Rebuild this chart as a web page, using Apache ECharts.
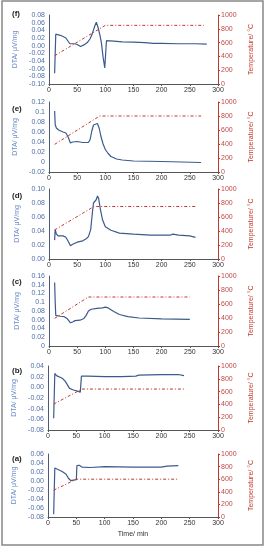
<!DOCTYPE html>
<html>
<head>
<meta charset="utf-8">
<script src="https://cdn.jsdelivr.net/npm/echarts@6/dist/echarts.min.js"></script>
<style>
html,body{margin:0;padding:0;background:#fff;}
#c{width:267px;height:550px;}
</style>
</head>
<body>
<div id="c"></div>
<script>
// ---- data (time in min, DTA in µV/mg, temperature in °C) ----
var panelNames = ['(f)', '(e)', '(d)', '(c)', '(b)', '(a)'];
var xTicks = [0, 50, 100, 150, 200, 250, 300];
var tempTicks = ['0', '200', '400', '600', '800', '1000'];

var dtaF = [[10,-0.072],[12,0.030],[15,0.029],[20,0.027],[25,0.024],[30,0.020],[33,0.015],[37,0.005],[40,0.003],[45,0.005],[50,0.003],[56,-0.002],[62,0.002],[68,0.008],[73,0.018],[77,0.032],[81,0.050],[84,0.061],[87,0.048],[90,0.030],[93,0.008],[96,-0.030],[99,-0.058],[102,0.013],[105,0.016],[115,0.012],[130,0.010],[150,0.009],[170,0.008],[185,0.006],[200,0.006],[230,0.005],[260,0.005],[280,0.004]];
var dtaE = [[10,0.102],[11,0.075],[13,0.068],[17,0.064],[25,0.060],[30,0.058],[34,0.050],[38,0.038],[42,0.040],[50,0.041],[60,0.039],[70,0.039],[73,0.045],[76,0.062],[79,0.074],[82,0.071],[86,0.077],[89,0.068],[92,0.052],[96,0.036],[100,0.025],[105,0.017],[110,0.011],[120,0.006],[130,0.004],[150,0.002],[200,0.001],[270,-0.001]];
var dtaD = [[10,0.027],[11,0.042],[13,0.036],[16,0.033],[25,0.033],[30,0.031],[35,0.024],[38,0.019],[42,0.021],[50,0.024],[60,0.026],[66,0.029],[70,0.032],[74,0.042],[77,0.066],[79,0.080],[82,0.081],[84,0.085],[86,0.090],[88,0.087],[91,0.072],[95,0.056],[100,0.046],[110,0.041],[125,0.037],[150,0.0355],[180,0.034],[200,0.034],[215,0.034],[220,0.0355],[230,0.034],[250,0.033],[260,0.031]];
var dtaC = [[10,0.145],[11,0.100],[12,0.070],[14,0.067],[20,0.068],[27,0.067],[32,0.063],[35,0.058],[38,0.053],[42,0.055],[46,0.058],[55,0.059],[62,0.063],[66,0.070],[70,0.080],[75,0.084],[85,0.086],[95,0.087],[100,0.089],[105,0.087],[115,0.079],[125,0.072],[140,0.067],[160,0.064],[200,0.062],[250,0.061]];
var dtaB = [[10,-0.058],[12,0.026],[15,0.022],[25,0.017],[30,0.012],[34,0.005],[38,-0.002],[45,-0.005],[52,-0.007],[57,-0.009],[59,0.021],[62,0.024],[70,0.021],[100,0.020],[130,0.020],[155,0.021],[160,0.023],[200,0.024],[230,0.024],[240,0.022]];
var dtaA = [[10,-0.074],[12,0.029],[15,0.027],[25,0.021],[32,0.015],[36,0.006],[40,0.001],[45,0.002],[50,0.003],[51,0.034],[55,0.035],[60,0.031],[75,0.030],[100,0.032],[150,0.031],[200,0.031],[210,0.033],[230,0.034]];

var tempF = [[10,410],[100,850],[275,850]];
var tempE = [[10,395],[90,800],[270,800]];
var tempD = [[10,415],[80,750],[260,750]];
var tempC = [[10,395],[70,700],[250,700]];
var tempB = [[10,405],[60,640],[240,640]];
var tempA = [[10,425],[50,600],[230,600]];

// DTA axis tick labels (bottom to top)
var dtaTicksF = ['-0.10','-0.08','-0.06','-0.04','-0.02','0.00','0.02','0.04','0.06','0.08'];
var dtaTicksE = ['-0.02','0','0.02','0.04','0.06','0.08','0.1','0.12'];
var dtaTicksD = ['0.00','0.02','0.04','0.06','0.08','0.10'];
var dtaTicksC = ['0','0.02','0.04','0.06','0.08','0.1','0.12','0.14','0.16'];
var dtaTicksB = ['-0.08','-0.06','-0.04','-0.02','0.00','0.02','0.04'];
var dtaTicksA = ['-0.08','-0.06','-0.04','-0.02','0.00','0.02','0.04','0.06'];

var dtaSets = [dtaF, dtaE, dtaD, dtaC, dtaB, dtaA];
var tempSets = [tempF, tempE, tempD, tempC, tempB, tempA];
var dtaTickSets = [dtaTicksF, dtaTicksE, dtaTicksD, dtaTicksC, dtaTicksB, dtaTicksA];

// ---- layout ----
var grids = [
  {left:49, width:169, top:15, height:69},
  {left:49, width:169, top:102, height:70},
  {left:49, width:169, top:189, height:70},
  {left:49, width:169, top:276, height:70},
  {left:48, width:170, top:366, height:64},
  {left:48, width:170, top:454, height:63}
];
var labelPos = [[7,5],[7,100],[7,187],[7,273],[7,362],[7,450]];

var BLUE = '#3d5a8c', BLUE_T = '#4f6ea6', BLUE_N = '#6a8cc8', RED = '#c0392b', RED_T = '#c04848';

var xAxes = [], yAxes = [], series = [], titles = [];
for (var i = 0; i < 6; i++) {
  var tk = dtaTickSets[i];
  var mn = parseFloat(tk[0]), mx = parseFloat(tk[tk.length-1]);
  var itv = Math.round((mx - mn) / (tk.length - 1) * 1000) / 1000;
  xAxes.push({
    type:'value', gridIndex:i, min:xTicks[0], max:xTicks[xTicks.length-1], interval:50,
    axisLine:{show:true, onZero:false, lineStyle:{color:'#555', width:1}},
    axisTick:{show:true, length:2, lineStyle:{color:'#555'}},
    axisLabel:{fontSize:7, color:'#333', margin:3, fontFamily:'Liberation Sans'},
    splitLine:{show:false},
    name: i === 5 ? 'Time/ min' : '',
    nameLocation:'middle', nameGap:14,
    nameTextStyle:{fontSize:7, color:'#333', fontFamily:'Liberation Sans'}
  });
  (function(tk, mn, itv){
    yAxes.push({
      type:'value', gridIndex:i, position:'left', min:mn, max:parseFloat(tk[tk.length-1]), interval:itv,
      axisLine:{show:true, onZero:false, lineStyle:{color:'#4a5a78', width:1}},
      axisTick:{show:false},
      axisLabel:{fontSize:7, color:BLUE_T, margin:4, fontFamily:'Liberation Sans',
        formatter:function(v){ var k = Math.round((v - mn) / itv); return tk[k] !== undefined ? tk[k] : ''; }},
      splitLine:{show:false},
      name:'DTA/ μV/mg', nameLocation:'middle', nameGap:24, nameRotate:90,
      nameTextStyle:{fontSize:7, color:BLUE_N, fontFamily:'Liberation Sans'}
    });
  })(tk, mn, itv);
  yAxes.push({
    type:'value', gridIndex:i, position:'right', min:0, max:1000, interval:200,
    axisLine:{show:true, onZero:false, lineStyle:{color:RED, width:1}},
    axisTick:{show:true, length:2, lineStyle:{color:RED}},
    axisLabel:{fontSize:7, color:RED_T, margin:3, fontFamily:'Liberation Sans',
      formatter:function(v){ return tempTicks[Math.round(v/200)]; }},
    splitLine:{show:false},
    name:'Temperature/ °C', nameLocation:'middle', nameGap:23, nameRotate:90,
    nameTextStyle:{fontSize:7, color:RED, fontFamily:'Liberation Sans'}
  });
  series.push({
    type:'line', xAxisIndex:i, yAxisIndex:2*i, data:dtaSets[i], showSymbol:false, symbol:'none',
    lineStyle:{color:BLUE, width:1.2}, silent:true, animation:false
  });
  series.push({
    type:'line', xAxisIndex:i, yAxisIndex:2*i+1, data:tempSets[i], showSymbol:false, symbol:'none',
    lineStyle:{color:RED, width:1, type:[3,2,1,2]}, silent:true, animation:false
  });
  titles.push({
    text:panelNames[i], left:labelPos[i][0], top:labelPos[i][1],
    textStyle:{fontSize:8, fontWeight:'bold', color:'#222', fontFamily:'Liberation Sans'}
  });
}

var chart = echarts.init(document.getElementById('c'), null, {renderer:'canvas'});
chart.setOption({
  animation:false,
  backgroundColor:'#fff',
  title:titles,
  grid:grids,
  xAxis:xAxes,
  yAxis:yAxes,
  series:series,
  graphic:[{
    type:'rect', shape:{x:2, y:1, width:261, height:544},
    style:{fill:'none', stroke:'#888', lineWidth:1.5}, silent:true
  }]
});
</script>
</body>
</html>
